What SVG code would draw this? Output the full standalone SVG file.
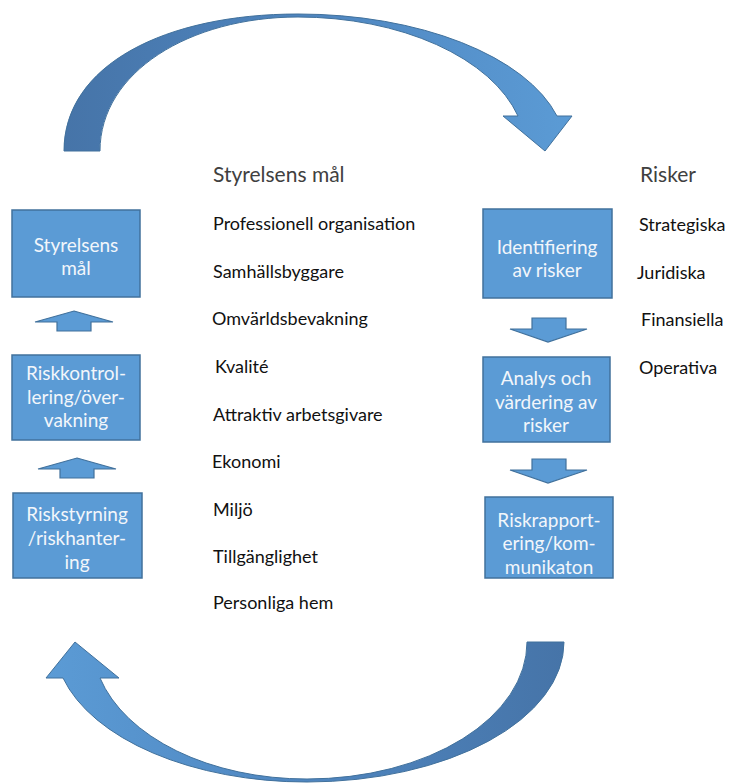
<svg xmlns="http://www.w3.org/2000/svg" width="729" height="783" viewBox="0 0 729 783">
<defs>
<linearGradient id="gTop" x1="64" y1="0" x2="572" y2="0" gradientUnits="userSpaceOnUse">
<stop offset="0" stop-color="#4674a8"/>
<stop offset="0.5" stop-color="#4f86c0"/>
<stop offset="1" stop-color="#5b9bd5"/>
</linearGradient>
<linearGradient id="gBot" x1="46" y1="0" x2="564" y2="0" gradientUnits="userSpaceOnUse">
<stop offset="0" stop-color="#5b9bd5"/>
<stop offset="0.5" stop-color="#4f86c0"/>
<stop offset="1" stop-color="#4674a8"/>
</linearGradient>
</defs>
<style>
.box{fill:#5b9bd5;stroke:#41719c;stroke-width:1.5}
.arr{fill:#5b9bd5;stroke:#41719c;stroke-width:1.2;stroke-linejoin:miter}
.big{stroke:#41719c;stroke-width:1}
.bt{font-family:Lato,"Liberation Sans",sans-serif;font-size:19px;fill:#f2f6fb;text-anchor:middle}
.li{font-family:Lato,"Liberation Sans",sans-serif;font-size:18px;fill:#111}
.hd{font-family:Lato,"Liberation Sans",sans-serif;font-size:21px;fill:#404040}
</style>
<rect width="729" height="783" fill="#ffffff"/>

<g id="connectors">
<path id="arc-top" class="big" fill="url(#gTop)" d="M64,151 C64,65 165,14 298,14 A268,137 0 0 1 557,116 L572,116 L545,151 L503,116 L518,116 A228,134 0 0 0 298,17 C190,17 100,72 100,151 Z"/>
<path id="arc-bottom" class="big" fill="url(#gBot)" d="M564,642 A257,140 0 0 1 307,782 A252,140 0 0 1 63,678 L46,678 L75,642 L119,678 L100,678 A214,137 0 0 0 307,779 A220,137 0 0 0 527,642 Z"/>
<polygon id="up1" class="arr" points="74,311 113,322 91,322 91,331 57,331 57,322 35,322"/>
<polygon id="up2" class="arr" points="77,458 116,469 94,469 94,478 60,478 60,469 38,469"/>
<polygon id="down1" class="arr" points="532,318 566,318 566,329 587,329 548,342 510,329 532,329"/>
<polygon id="down2" class="arr" points="532,459 566,459 566,470 587,470 548,483 510,470 532,470"/>
</g>

<g id="node-styrelsens-mal">
<rect class="box" x="12" y="210" width="128" height="87"/>
<text class="bt" x="76" y="252">Styrelsens</text>
<text class="bt" x="76" y="275">mål</text>
</g>
<g id="node-riskkontroll">
<rect class="box" x="12" y="355" width="128" height="85"/>
<text class="bt" x="76" y="380">Riskkontrol-</text>
<text class="bt" x="76" y="404">lering/över-</text>
<text class="bt" x="76" y="427">vakning</text>
</g>
<g id="node-riskstyrning">
<rect class="box" x="13" y="493" width="129" height="85"/>
<text class="bt" x="77" y="521">Riskstyrning</text>
<text class="bt" x="77" y="545">/riskhanter-</text>
<text class="bt" x="77" y="569">ing</text>
</g>
<g id="node-identifiering">
<rect class="box" x="483" y="209" width="129" height="89"/>
<text class="bt" x="547" y="254">Identifiering</text>
<text class="bt" x="547" y="277">av risker</text>
</g>
<g id="node-analys">
<rect class="box" x="483" y="357" width="127" height="85"/>
<text class="bt" x="546" y="385">Analys och</text>
<text class="bt" x="546" y="409">värdering av</text>
<text class="bt" x="546" y="432">risker</text>
</g>
<g id="node-riskrapportering">
<rect class="box" x="485" y="497" width="128" height="81"/>
<text class="bt" x="549" y="527">Riskrapport-</text>
<text class="bt" x="549" y="550">ering/kom-</text>
<text class="bt" x="549" y="574">munikaton</text>
</g>

<g id="list-mal">
<text class="hd" x="213" y="182">Styrelsens mål</text>
<text class="li" x="213" y="230">Professionell organisation</text>
<text class="li" x="213" y="278">Samhällsbyggare</text>
<text class="li" x="212" y="325">Omvärldsbevakning</text>
<text class="li" x="215" y="373">Kvalité</text>
<text class="li" x="213" y="421">Attraktiv arbetsgivare</text>
<text class="li" x="212" y="468">Ekonomi</text>
<text class="li" x="213" y="516">Miljö</text>
<text class="li" x="213" y="563">Tillgänglighet</text>
<text class="li" x="213" y="609">Personliga hem</text>
</g>
<g id="list-risker">
<text class="hd" x="640" y="182">Risker</text>
<text class="li" x="639" y="231">Strategiska</text>
<text class="li" x="637" y="279">Juridiska</text>
<text class="li" x="641" y="326">Finansiella</text>
<text class="li" x="639" y="374">Operativa</text>
</g>
</svg>
